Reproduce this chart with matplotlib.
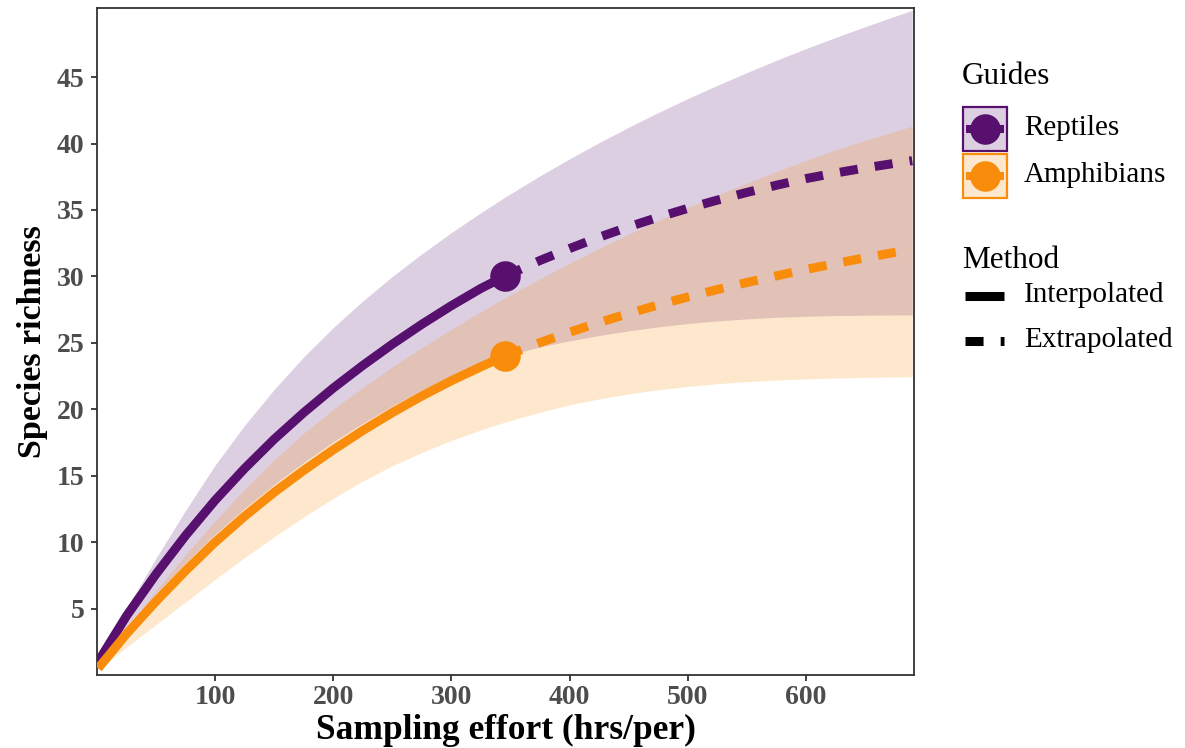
import matplotlib
matplotlib.use("Agg")
import matplotlib.pyplot as plt
from matplotlib.lines import Line2D
from matplotlib.patches import Rectangle

plt.rcParams['font.family'] = ['Liberation Serif', 'DejaVu Serif']

# ---------------- data ----------------
effort = [1, 25, 50, 75, 100, 125, 150, 175, 200, 225, 250, 275, 300, 325, 345,
          375, 400, 425, 450, 475, 500, 525, 550, 575, 600, 625, 650, 675, 690]
observed_effort = 345

rept_mean = [1.0, 4.45, 7.6, 10.5, 13.15, 15.55, 17.75, 19.75, 21.6, 23.3, 24.9, 26.4, 27.8, 29.1, 30.0,
             31.2, 32.1, 32.95, 33.73, 34.45, 35.12, 35.74, 36.32, 36.86, 37.36, 37.78, 38.16, 38.51, 38.71]
rept_upper = [1.0, 5.0, 8.8, 12.4, 15.8, 18.8, 21.5, 23.95, 26.15, 28.15, 30.0, 31.7, 33.3, 34.8, 35.95,
              37.57, 38.85, 40.07, 41.23, 42.33, 43.38, 44.38, 45.34, 46.26, 47.14, 47.98, 48.79, 49.57, 50.03]
rept_lower = [0.8, 3.7, 6.15, 8.45, 10.6, 12.55, 14.35, 16.0, 17.55, 18.95, 20.25, 21.45, 22.5, 23.4, 24.0,
              24.7, 25.15, 25.55, 25.9, 26.2, 26.45, 26.65, 26.8, 26.92, 27.0, 27.05, 27.08, 27.1, 27.1]

amph_mean = [0.5, 3.1, 5.55, 7.85, 10.0, 11.95, 13.75, 15.4, 16.95, 18.4, 19.75, 21.0, 22.15, 23.2, 24.0,
             25.02, 25.8, 26.53, 27.21, 27.85, 28.45, 29.01, 29.54, 30.04, 30.52, 30.97, 31.4, 31.8, 32.04]
amph_upper = [0.5, 3.5, 6.35, 9.05, 11.6, 14.0, 16.2, 18.2, 20.0, 21.65, 23.2, 24.65, 26.03, 27.35, 28.37,
              29.82, 30.99, 32.11, 33.18, 34.2, 35.18, 36.12, 37.02, 37.89, 38.73, 39.51, 40.23, 40.91, 41.31]
amph_lower = [0.4, 2.1, 3.8, 5.5, 7.2, 8.85, 10.4, 11.9, 13.3, 14.6, 15.75, 16.75, 17.65, 18.45, 19.03,
              19.78, 20.33, 20.78, 21.16, 21.47, 21.72, 21.92, 22.08, 22.2, 22.29, 22.35, 22.4, 22.43, 22.45]

guides = ["Reptiles", "Amphibians"]
colors = ["#57106e", "#f98c0a"]
methods = ["Interpolated", "Extrapolated"]
x_ticks = [100, 200, 300, 400, 500, 600]
y_ticks = [5, 10, 15, 20, 25, 30, 35, 40, 45]

# ---------------- figure ----------------
W, H = 1185, 748
fig = plt.figure(figsize=(W / 100, H / 100), dpi=100)
ax = fig.add_axes([97 / W, 1 - 675 / H, (914 - 97) / W, (675 - 8) / H])

series = [(rept_mean, rept_lower, rept_upper), (amph_mean, amph_lower, amph_upper)]
lw = 6.5
dash = (0, (2.0, 1.9))
split = effort.index(observed_effort)

for (m, lo, hi), c in zip(series, colors):
    ax.fill_between(effort, lo, hi, color=c, alpha=0.2, lw=0, zorder=1)
for (m, lo, hi), c in zip(series, colors):
    ax.plot(effort[:split + 1], m[:split + 1], color=c, lw=lw, solid_capstyle='butt',
            solid_joinstyle='round', zorder=3)
    ax.plot(effort[split:], m[split:], color=c, lw=lw, linestyle=dash, dash_capstyle='butt', zorder=3)
    ax.plot([effort[split]], [m[split]], 'o', color=c, ms=22, mew=0, zorder=4)

ax.set_xlim(0, 691.5)
ax.set_ylim(0, 50.2)
ax.set_xticks(x_ticks)
ax.set_yticks(y_ticks)
for s in ax.spines.values():
    s.set_color('#333333')
    s.set_linewidth(1.3)
ax.tick_params(axis='both', direction='out', length=4, width=1.3, color='#333333',
               labelcolor='#4d4d4d', labelsize=20)
ax.tick_params(axis='x', pad=3)
ax.tick_params(axis='y', pad=5)
for lab in ax.get_xticklabels() + ax.get_yticklabels():
    lab.set_fontweight('bold')

ax.set_xlabel("Sampling effort (hrs/per)", fontsize=25.5, fontweight='bold', labelpad=3)
ax.set_ylabel("Species richness", fontsize=24.5, fontweight='bold', labelpad=6)

# ---------------- legend (manual) ----------------
def fx(px):
    return px / W

def fy(py):
    return 1 - py / H

fig.text(fx(962), fy(76), "Guides", fontsize=22.5, va='center', ha='left')
for i, (g, c) in enumerate(zip(guides, colors)):
    top = 107 + i * 47
    cy = top + 22
    fig.patches.append(Rectangle((fx(963), fy(top + 44)), 44 / W, 44 / H, transform=fig.transFigure,
                                 facecolor=c, alpha=0.2, edgecolor='none'))
    fig.patches.append(Rectangle((fx(963), fy(top + 44)), 44 / W, 44 / H, transform=fig.transFigure,
                                 facecolor='none', edgecolor=c, lw=1.6))
    fig.lines.append(Line2D([fx(966), fx(1004)], [fy(cy), fy(cy)], transform=fig.transFigure,
                            color=c, lw=5.8, solid_capstyle='butt'))
    fig.lines.append(Line2D([fx(985)], [fy(cy)], transform=fig.transFigure, marker='o',
                            color=c, ms=22, mew=0))
    fig.text(fx(1024), fy(cy - 1), g, fontsize=21, va='center', ha='left')

fig.text(fx(962), fy(260), "Method", fontsize=22.5, va='center', ha='left')
styles = ['-', dash]
for i, (mth, st) in enumerate(zip(methods, styles)):
    cy = 296 + i * 45
    fig.lines.append(Line2D([fx(965), fx(1004)], [fy(cy), fy(cy)], transform=fig.transFigure,
                            color='black', lw=lw, linestyle=st, solid_capstyle='butt',
                            dash_capstyle='butt'))
    fig.text(fx(1024), fy(cy - 1), mth, fontsize=21, va='center', ha='left')

fig.savefig("out.png", dpi=100)
